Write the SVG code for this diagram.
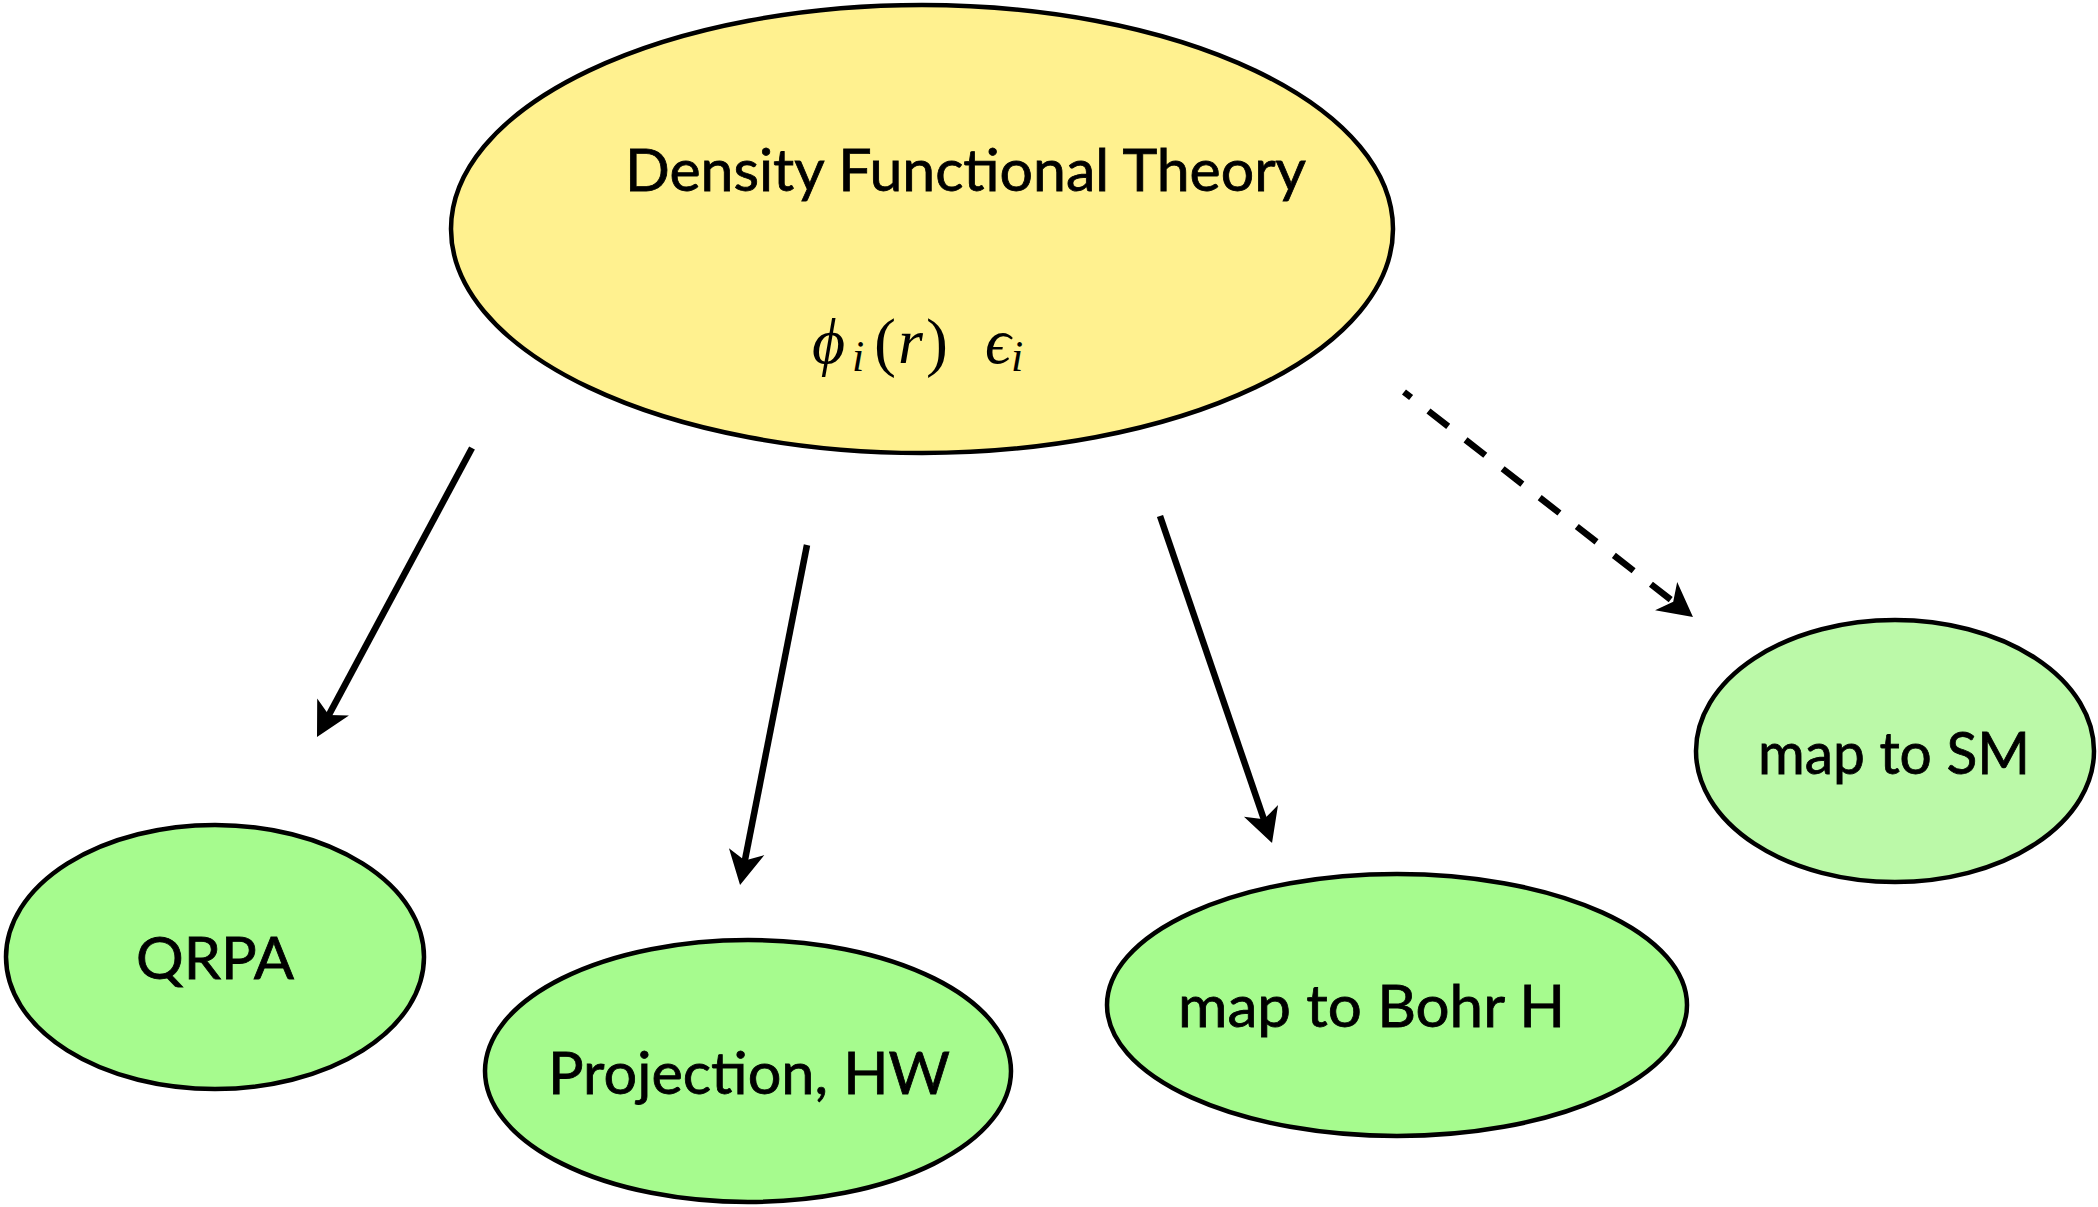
<svg xmlns="http://www.w3.org/2000/svg" width="2098" height="1207" viewBox="0 0 2098 1207">
  <defs>
    <style>
      .node { stroke: #000; stroke-width: 4.5; }
      .dft { fill: #fff18f; }
      .green { fill: #a6fb8e; }
      .pale { fill: #bbf9a8; }
      .label { font-family: "Lato", "Open Sans", "Liberation Sans", sans-serif; font-size: 58px; fill: #000; stroke: #000; stroke-width: 0.8; }
      .math { font-family: "Liberation Serif", "DejaVu Serif", serif; font-size: 64px; fill: #000; }
      .it { font-style: italic; }
      .sub { font-size: 44px; font-style: italic; }
      .paren { font-size: 66px; font-style: normal; }
      .edge { stroke: #000; stroke-width: 6.5; fill: none; marker-end: url(#head); }
      .dashed { stroke-dasharray: 25 22; stroke-dashoffset: 16; }
    </style>
    <marker id="head" markerUnits="userSpaceOnUse" markerWidth="40" markerHeight="40" viewBox="-14 -20 40 40" refX="0" refY="0" orient="auto">
      <path d="M22,0 L-12,-18 L-3,0 L-12,18 Z" fill="#000"/>
    </marker>
  </defs>

  <rect width="2098" height="1207" fill="#fff"/>

  <!-- connectors -->
  <g id="connectors">
    <line class="edge" x1="472" y1="448" x2="327.4" y2="717.6"/>
    <line class="edge" x1="807" y1="545" x2="744.3" y2="863.4"/>
    <line class="edge" x1="1160" y1="516" x2="1264.9" y2="822.2"/>
    <line class="edge dashed" x1="1404" y1="392" x2="1675.6" y2="603.5"/>
  </g>

  <!-- source node -->
  <g id="dft">
    <ellipse class="node dft" cx="922" cy="229" rx="471" ry="224"/>
    <text class="label" x="625" y="191" textLength="681" lengthAdjust="spacingAndGlyphs">Density Functional Theory</text>
    <text class="math"><tspan class="it" x="812" y="363">ϕ</tspan><tspan class="sub" x="852" y="371">i</tspan><tspan class="paren" x="874" y="364">(</tspan><tspan class="it" x="898" y="363">r</tspan><tspan class="paren" x="926" y="364">)</tspan><tspan class="it" x="985" y="363">ϵ</tspan><tspan class="sub" x="1011" y="371">i</tspan></text>
  </g>

  <!-- target nodes -->
  <g id="qrpa">
    <ellipse class="node green" cx="215" cy="957" rx="209" ry="132"/>
    <text class="label" x="136" y="979" textLength="158" lengthAdjust="spacingAndGlyphs">QRPA</text>
  </g>
  <g id="projection">
    <ellipse class="node green" cx="748" cy="1071" rx="263" ry="131"/>
    <text class="label" x="548" y="1094" textLength="402" lengthAdjust="spacingAndGlyphs">Projection, HW</text>
  </g>
  <g id="bohr">
    <ellipse class="node green" cx="1397" cy="1005" rx="290" ry="131"/>
    <text class="label" x="1178" y="1027" textLength="387" lengthAdjust="spacingAndGlyphs">map to Bohr H</text>
  </g>
  <g id="shell-model">
    <ellipse class="node pale" cx="1895" cy="751" rx="199" ry="131"/>
    <text class="label" x="1758" y="774" textLength="272" lengthAdjust="spacingAndGlyphs">map to SM</text>
  </g>
</svg>
